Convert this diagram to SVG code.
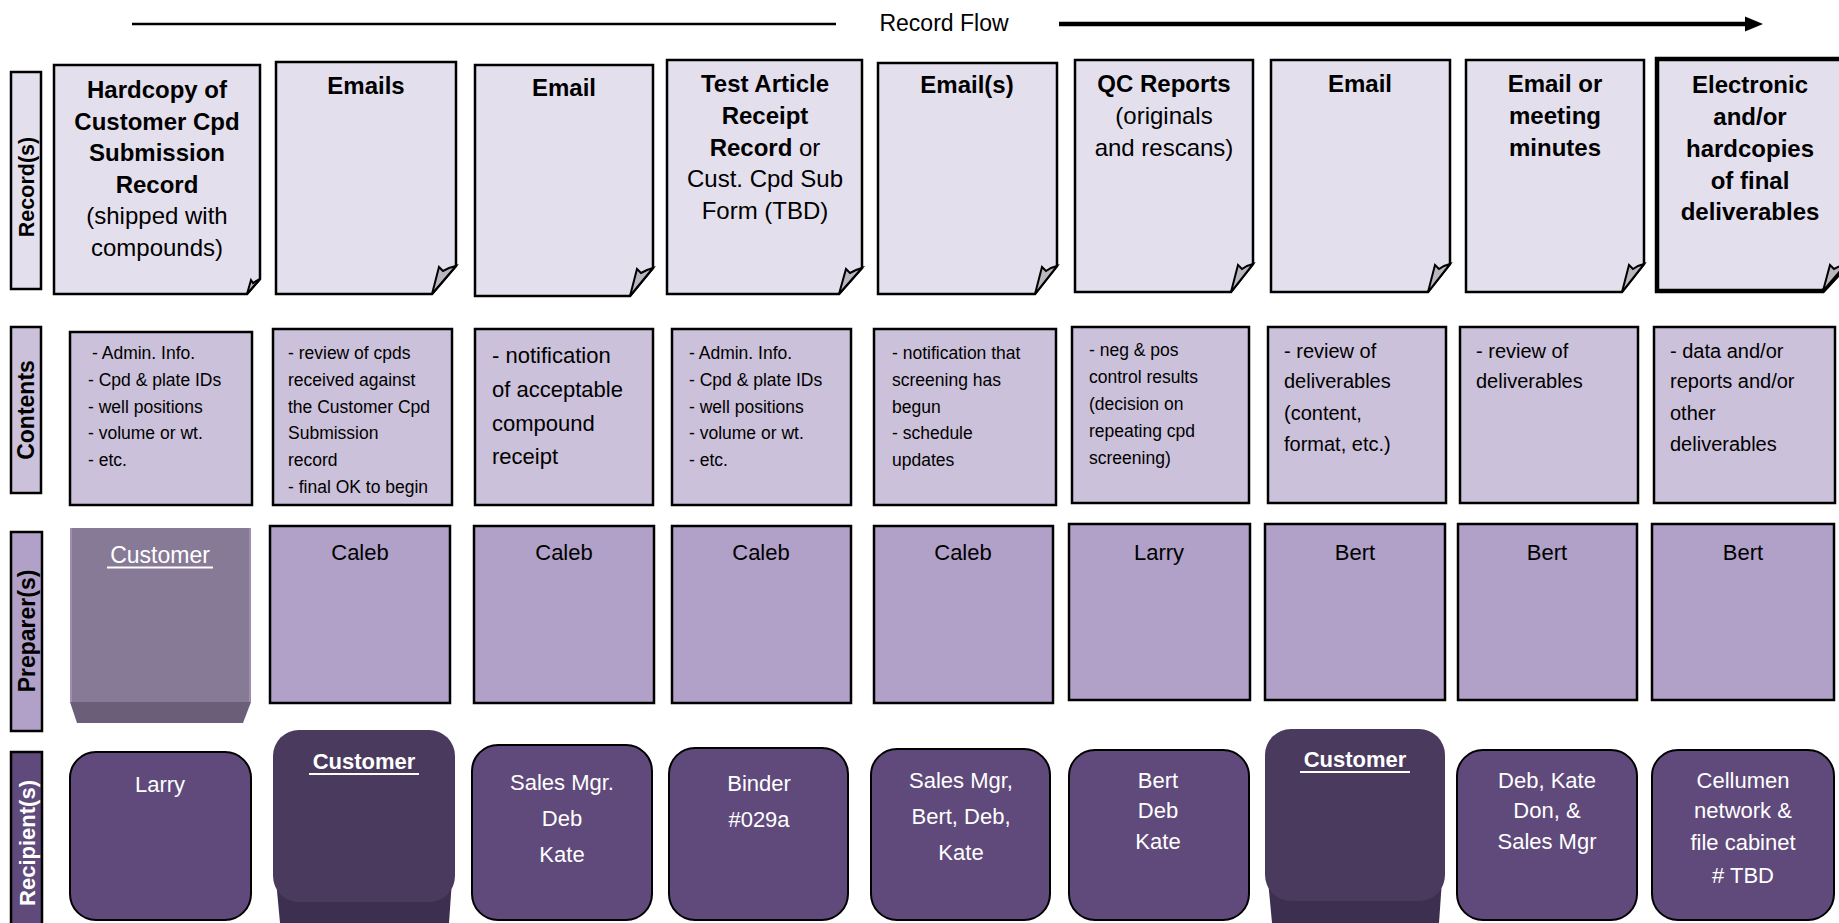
<svg xmlns="http://www.w3.org/2000/svg" width="1839" height="923" viewBox="0 0 1839 923">
<style>
text{font-family:"Liberation Sans",Arial,sans-serif;}
.rec{fill:#e4dfec;stroke:#000;stroke-width:2.5;stroke-linejoin:miter;}
.fold{fill:#b9b6c0;stroke:#000;stroke-width:2;stroke-linejoin:miter;}
.con{fill:#ccc1da;stroke:#000;stroke-width:2.5;}
.pre{fill:#b1a0c7;stroke:#000;stroke-width:2.5;}
.rcp{fill:#604a7b;stroke:#000;stroke-width:2;}
.t{font-size:24px;text-anchor:middle;fill:#000;}
.b{font-weight:bold;}
.c{font-size:17.5px;fill:#000;}
.c3{font-size:22px;fill:#000;}
.c7{font-size:20px;fill:#000;}
.p{font-size:22px;text-anchor:middle;fill:#000;}
.r{font-size:22px;text-anchor:middle;fill:#fff;}
.lab{font-size:23px;font-weight:bold;text-anchor:middle;}
</style>

<g id="flow">
<line x1="132" y1="24" x2="836" y2="24" stroke="#000" stroke-width="2.5"/>
<text x="944" y="31" font-size="23" text-anchor="middle" fill="#000">Record Flow</text>
<line x1="1059" y1="24" x2="1747" y2="24" stroke="#000" stroke-width="4.5"/>
<polygon points="1745,16.5 1763,24 1745,31.5" fill="#000"/>
</g>

<g id="labels">
<rect x="11" y="72" width="30" height="217" fill="#e4dfec" stroke="#000" stroke-width="2.5"/>
<text class="lab" transform="translate(34,187) rotate(-90)" fill="#000" style="font-size:21.5px">Record(s)</text>
<rect x="11" y="327" width="30" height="166" fill="#ccc1da" stroke="#000" stroke-width="2.5"/>
<text class="lab" transform="translate(34,410) rotate(-90)" fill="#000">Contents</text>
<rect x="11" y="532" width="31" height="199" fill="#b1a0c7" stroke="#000" stroke-width="2.5"/>
<text class="lab" transform="translate(35,631) rotate(-90)" fill="#000">Preparer(s)</text>
<rect x="11" y="752" width="31" height="175" fill="#604a7b" stroke="#000" stroke-width="2.5"/>
<text class="lab" transform="translate(35,843) rotate(-90)" fill="#fff" style="font-size:22px">Recipient(s)</text>
</g>

<g id="records">
<g id="rec1">
<path class="rec" d="M54,65 H260 V279 L247,294 H54 Z"/>
<polygon class="fold" points="247,294 251,280 253,283 256,281 260,279"/>
<text class="t b" x="157" y="98">Hardcopy of</text>
<text class="t b" x="157" y="129.5">Customer Cpd</text>
<text class="t b" x="157" y="161">Submission</text>
<text class="t b" x="157" y="192.5">Record</text>
<text class="t" x="157" y="224">(shipped with</text>
<text class="t" x="157" y="255.5">compounds)</text>
</g>
<g id="rec2">
<path class="rec" d="M276,62 H456 V266 L432,294 H276 Z"/>
<polygon class="fold" points="432,294 439,267 443,271 449,268 456,266"/>
<text class="t b" x="366" y="94">Emails</text>
</g>
<g id="rec3">
<path class="rec" d="M475,65 H653 V268 L630,296 H475 Z"/>
<polygon class="fold" points="630,296 637,269 641,273 647,270 653,268"/>
<text class="t b" x="564" y="96">Email</text>
</g>
<g id="rec4">
<path class="rec" d="M667,60 H862 V268 L839,294 H667 Z"/>
<polygon class="fold" points="839,294 846,269 850,273 856,270 862,268"/>
<text class="t b" x="765" y="92">Test Article</text>
<text class="t b" x="765" y="124">Receipt</text>
<text class="t" x="765" y="156"><tspan class="b">Record</tspan> or</text>
<text class="t" x="765" y="187">Cust. Cpd Sub</text>
<text class="t" x="765" y="219">Form (TBD)</text>
</g>
<g id="rec5">
<path class="rec" d="M878,63 H1057 V266 L1035,294 H878 Z"/>
<polygon class="fold" points="1035,294 1042,267 1046,271 1051,268 1057,266"/>
<text class="t b" x="967" y="93">Email(s)</text>
</g>
<g id="rec6">
<path class="rec" d="M1075,60 H1253 V264 L1231,292 H1075 Z"/>
<polygon class="fold" points="1231,292 1238,265 1242,269 1247,266 1253,264"/>
<text class="t b" x="1164" y="92">QC Reports</text>
<text class="t" x="1164" y="124">(originals</text>
<text class="t" x="1164" y="156">and rescans)</text>
</g>
<g id="rec7">
<path class="rec" d="M1271,60 H1450 V264 L1428,292 H1271 Z"/>
<polygon class="fold" points="1428,292 1435,265 1439,269 1444,266 1450,264"/>
<text class="t b" x="1360" y="92">Email</text>
</g>
<g id="rec8">
<path class="rec" d="M1466,60 H1644 V264 L1622,292 H1466 Z"/>
<polygon class="fold" points="1622,292 1629,265 1633,269 1638,266 1644,264"/>
<text class="t b" x="1555" y="92">Email or</text>
<text class="t b" x="1555" y="124">meeting</text>
<text class="t b" x="1555" y="156">minutes</text>
</g>
<g id="rec9">
<path class="rec" style="stroke-width:4.5" d="M1657,59 H1848 V264 L1823,291 H1657 Z"/>
<polygon class="fold" points="1823,291 1830,265 1834,269 1840,266 1846,264"/>
<text class="t b" x="1750" y="93">Electronic</text>
<text class="t b" x="1750" y="125">and/or</text>
<text class="t b" x="1750" y="157">hardcopies</text>
<text class="t b" x="1750" y="189">of final</text>
<text class="t b" x="1750" y="220">deliverables</text>
</g>
</g>

<g id="contents">
<g id="con1">
<rect class="con" x="70" y="332" width="182" height="173"/>
<text class="c" x="92" y="359">- Admin. Info.</text>
<text class="c" x="88" y="386">- Cpd &amp; plate IDs</text>
<text class="c" x="88" y="413">- well positions</text>
<text class="c" x="88" y="439">- volume or wt.</text>
<text class="c" x="88" y="466">- etc.</text>
</g>
<g id="con2">
<rect class="con" x="273" y="329" width="179" height="176"/>
<text class="c" x="288" y="359">- review of cpds</text>
<text class="c" x="288" y="386">received against</text>
<text class="c" x="288" y="413">the Customer Cpd</text>
<text class="c" x="288" y="439">Submission</text>
<text class="c" x="288" y="466">record</text>
<text class="c" x="288" y="493">- final OK to begin</text>
</g>
<g id="con3">
<rect class="con" x="475" y="329" width="178" height="176"/>
<text class="c3" x="492" y="363">- notification</text>
<text class="c3" x="492" y="397">of acceptable</text>
<text class="c3" x="492" y="431">compound</text>
<text class="c3" x="492" y="464">receipt</text>
</g>
<g id="con4">
<rect class="con" x="672" y="329" width="179" height="176"/>
<text class="c" x="689" y="359">- Admin. Info.</text>
<text class="c" x="689" y="386">- Cpd &amp; plate IDs</text>
<text class="c" x="689" y="413">- well positions</text>
<text class="c" x="689" y="439">- volume or wt.</text>
<text class="c" x="689" y="466">- etc.</text>
</g>
<g id="con5">
<rect class="con" x="874" y="329" width="182" height="176"/>
<text class="c" x="892" y="359">- notification that</text>
<text class="c" x="892" y="386">screening has</text>
<text class="c" x="892" y="413">begun</text>
<text class="c" x="892" y="439">- schedule</text>
<text class="c" x="892" y="466">updates</text>
</g>
<g id="con6">
<rect class="con" x="1072" y="327" width="177" height="176"/>
<text class="c" x="1089" y="356">- neg &amp; pos</text>
<text class="c" x="1089" y="383">control results</text>
<text class="c" x="1089" y="410">(decision on</text>
<text class="c" x="1089" y="437">repeating cpd</text>
<text class="c" x="1089" y="464">screening)</text>
</g>
<g id="con7">
<rect class="con" x="1268" y="327" width="178" height="176"/>
<text class="c7" x="1284" y="358">- review of</text>
<text class="c7" x="1284" y="388">deliverables</text>
<text class="c7" x="1284" y="420">(content,</text>
<text class="c7" x="1284" y="451">format, etc.)</text>
</g>
<g id="con8">
<rect class="con" x="1460" y="327" width="178" height="176"/>
<text class="c7" x="1476" y="358">- review of</text>
<text class="c7" x="1476" y="388">deliverables</text>
</g>
<g id="con9">
<rect class="con" x="1654" y="327" width="181" height="176"/>
<text class="c7" x="1670" y="358">- data and/or</text>
<text class="c7" x="1670" y="388">reports and/or</text>
<text class="c7" x="1670" y="420">other</text>
<text class="c7" x="1670" y="451">deliverables</text>
</g>
</g>

<g id="preparers">
<g id="pre1">
<polygon points="70,702 251,702 243,723 77,723" fill="#6a5e78"/>
<rect x="70" y="528" width="181" height="174" fill="#877a96"/>
<rect x="70" y="528" width="2" height="174" fill="#9d8fae"/>
<rect x="249" y="528" width="2" height="174" fill="#9d8fae"/>
<text x="160" y="563" font-size="23" text-anchor="middle" fill="#fff">Customer</text>
<line x1="107" y1="567.5" x2="213" y2="567.5" stroke="#fff" stroke-width="2"/>
</g>
<g id="pre2"><rect class="pre" x="270" y="526" width="180" height="177"/><text class="p" x="360" y="560">Caleb</text></g>
<g id="pre3"><rect class="pre" x="474" y="526" width="180" height="177"/><text class="p" x="564" y="560">Caleb</text></g>
<g id="pre4"><rect class="pre" x="672" y="526" width="179" height="177"/><text class="p" x="761" y="560">Caleb</text></g>
<g id="pre5"><rect class="pre" x="874" y="526" width="179" height="177"/><text class="p" x="963" y="560">Caleb</text></g>
<g id="pre6"><rect class="pre" x="1069" y="524" width="181" height="176"/><text class="p" x="1159" y="560">Larry</text></g>
<g id="pre7"><rect class="pre" x="1265" y="524" width="180" height="176"/><text class="p" x="1355" y="560">Bert</text></g>
<g id="pre8"><rect class="pre" x="1458" y="524" width="179" height="176"/><text class="p" x="1547" y="560">Bert</text></g>
<g id="pre9"><rect class="pre" x="1652" y="524" width="182" height="176"/><text class="p" x="1743" y="560">Bert</text></g>
</g>

<g id="recipients">
<g id="rcp1"><rect class="rcp" x="70" y="752" width="181" height="168" rx="26" ry="26"/><text class="r" x="160" y="792">Larry</text></g>
<g id="rcp2">
<path d="M276,880 H452 L449,923 H280 Z" fill="#3d2f50"/>
<rect x="273" y="730" width="182" height="172" rx="26" ry="26" fill="#4a3a5e"/>
<text class="r b" x="364" y="769">Customer</text>
<line x1="309" y1="774" x2="419" y2="774" stroke="#fff" stroke-width="2"/>
</g>
<g id="rcp3"><rect class="rcp" x="472" y="745" width="180" height="175" rx="26" ry="26"/>
<text class="r" x="562" y="790">Sales Mgr.</text><text class="r" x="562" y="826">Deb</text><text class="r" x="562" y="862">Kate</text></g>
<g id="rcp4"><rect class="rcp" x="669" y="748" width="179" height="172" rx="26" ry="26"/>
<text class="r" x="759" y="791">Binder</text><text class="r" x="759" y="827">#029a</text></g>
<g id="rcp5"><rect class="rcp" x="871" y="749" width="179" height="171" rx="26" ry="26"/>
<text class="r" x="961" y="788">Sales Mgr,</text><text class="r" x="961" y="824">Bert, Deb,</text><text class="r" x="961" y="860">Kate</text></g>
<g id="rcp6"><rect class="rcp" x="1069" y="750" width="180" height="170" rx="26" ry="26"/>
<text class="r" x="1158" y="788">Bert</text><text class="r" x="1158" y="818">Deb</text><text class="r" x="1158" y="849">Kate</text></g>
<g id="rcp7">
<path d="M1268,880 H1442 L1439,923 H1272 Z" fill="#3d2f50"/>
<rect x="1265" y="729" width="180" height="172" rx="26" ry="26" fill="#4a3a5e"/>
<text class="r b" x="1355" y="767">Customer</text>
<line x1="1300" y1="772" x2="1410" y2="772" stroke="#fff" stroke-width="2"/>
</g>
<g id="rcp8"><rect class="rcp" x="1457" y="750" width="180" height="170" rx="26" ry="26"/>
<text class="r" x="1547" y="788">Deb, Kate</text><text class="r" x="1547" y="818">Don, &amp;</text><text class="r" x="1547" y="849">Sales Mgr</text></g>
<g id="rcp9"><rect class="rcp" x="1652" y="750" width="182" height="170" rx="26" ry="26"/>
<text class="r" x="1743" y="788">Cellumen</text><text class="r" x="1743" y="818">network &amp;</text><text class="r" x="1743" y="850">file cabinet</text><text class="r" x="1743" y="883"># TBD</text></g>
</g>
</svg>
